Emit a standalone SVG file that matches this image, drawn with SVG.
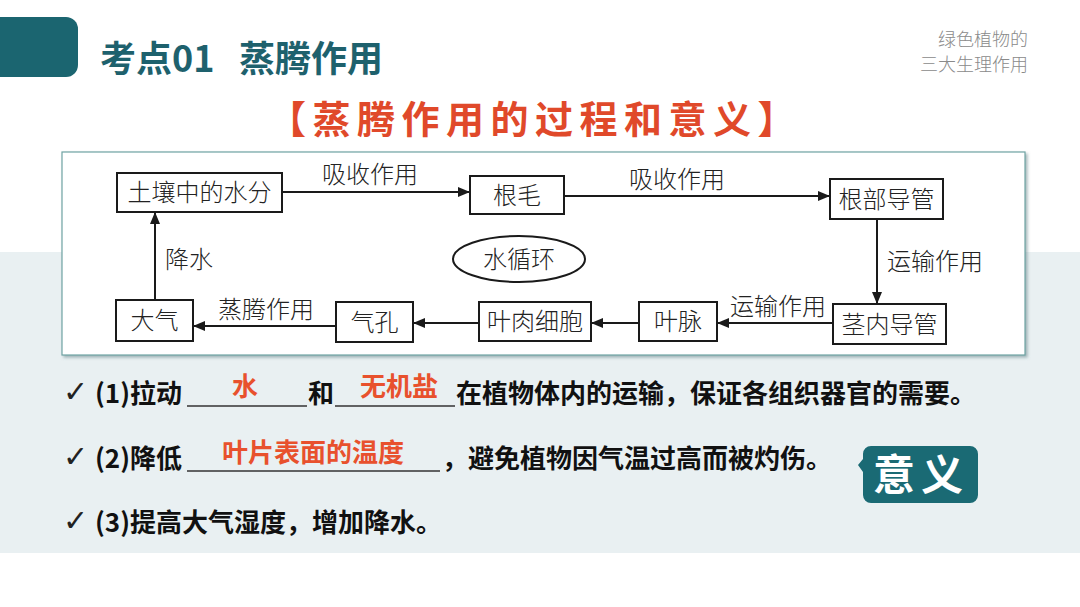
<svg xmlns="http://www.w3.org/2000/svg" width="1080" height="607" viewBox="0 0 1080 607">
<defs>
<style>
.nd{fill:#fff;stroke:#1a1a1a;stroke-width:2}
.nt{font-family:"Noto Sans CJK SC","Noto Sans",sans-serif;font-size:24px;fill:#222;text-anchor:middle;font-weight:300}
.lb{font-family:"Noto Sans CJK SC","Noto Sans",sans-serif;font-size:24px;fill:#222;font-weight:300}
.cn{stroke:#1a1a1a;stroke-width:2;fill:none;marker-end:url(#ah)}
.bt{font-family:"Noto Sans CJK SC","Liberation Sans",sans-serif;font-size:26px;font-weight:bold;fill:#111}
.rd{font-family:"Noto Sans CJK SC","Liberation Sans",sans-serif;font-size:26px;font-weight:bold;fill:#e8512d}
.ul{stroke:#333;stroke-width:1.3}
.ck{font-family:"DejaVu Sans",sans-serif;font-size:30px;fill:#222}
</style>
<marker id="ah" viewBox="0 0 12 10" refX="12" refY="5" markerWidth="12" markerHeight="10" markerUnits="userSpaceOnUse" orient="auto">
<path d="M0,0 L12,5 L0,10 Z" fill="#1a1a1a"/>
</marker>
<filter id="sh" x="-5%" y="-5%" width="110%" height="115%">
<feDropShadow dx="2" dy="2" stdDeviation="1.5" flood-color="#6d8a8e" flood-opacity="0.6"/>
</filter>
</defs>
<rect x="0" y="0" width="1080" height="607" fill="#ffffff"/>
<rect x="0" y="252" width="1080" height="301" fill="#e9f0f2"/>
<rect x="-20" y="17" width="98" height="60" rx="12" fill="#1b6570"/>
<g font-family="Noto Sans CJK SC,Liberation Sans,sans-serif" font-size="36" font-weight="bold" fill="#1e616d">
<text x="100" y="72">考点01</text>
<text x="239" y="72">蒸腾作用</text>
</g>
<g font-family="Noto Sans CJK SC,sans-serif" font-size="18" fill="#8a8a8a" text-anchor="end" font-weight="300">
<text x="1028" y="46">绿色植物的</text>
<text x="1028" y="71">三大生理作用</text>
</g>
<text x="535" y="133" font-family="Noto Sans CJK SC,sans-serif" font-size="38" font-weight="bold" fill="#e0492a" text-anchor="middle" letter-spacing="6.5">【蒸腾作用的过程和意义】</text>
<rect x="62" y="152" width="963" height="203" fill="#ffffff" stroke="#6fa3a3" stroke-width="1.2" filter="url(#sh)"/>
<g id="connectors">
<line class="cn" x1="282" y1="192" x2="470" y2="192"/>
<line class="cn" x1="564" y1="196" x2="830" y2="196"/>
<line class="cn" x1="877" y1="219" x2="877" y2="304"/>
<line class="cn" x1="833" y1="323" x2="717" y2="323"/>
<line class="cn" x1="639" y1="323" x2="591" y2="323"/>
<line class="cn" x1="479" y1="323" x2="413" y2="323"/>
<line class="cn" x1="336" y1="326" x2="193" y2="326"/>
<line class="cn" x1="155" y1="300" x2="155" y2="212"/>
<text class="lb" x="322" y="183">吸收作用</text>
<text class="lb" x="629" y="188">吸收作用</text>
<text class="lb" x="887" y="270">运输作用</text>
<text class="lb" x="730" y="315">运输作用</text>
<text class="lb" x="218" y="318">蒸腾作用</text>
<text class="lb" x="165" y="268">降水</text>
</g>
<g id="n-soil"><rect class="nd" x="117" y="173" width="165" height="39"/><text class="nt" x="199.5" y="201">土壤中的水分</text></g>
<g id="n-genmao"><rect class="nd" x="470" y="176" width="94" height="38"/><text class="nt" x="517" y="203.5">根毛</text></g>
<g id="n-root"><rect class="nd" x="830" y="179" width="113" height="40"/><text class="nt" x="886.5" y="207.5">根部导管</text></g>
<g id="n-stem"><rect class="nd" x="833" y="304" width="113" height="40"/><text class="nt" x="889.5" y="332.5">茎内导管</text></g>
<g id="n-yemai"><rect class="nd" x="639" y="302" width="78" height="39"/><text class="nt" x="678" y="330">叶脉</text></g>
<g id="n-yerou"><rect class="nd" x="479" y="302" width="112" height="39"/><text class="nt" x="535" y="330">叶肉细胞</text></g>
<g id="n-qikong"><rect class="nd" x="336" y="302" width="77" height="40"/><text class="nt" x="374.5" y="330.5">气孔</text></g>
<g id="n-daqi"><rect class="nd" x="116" y="300" width="77" height="41"/><text class="nt" x="154.5" y="329">大气</text></g>
<g id="n-cycle"><ellipse cx="519" cy="259" rx="66" ry="23" fill="#fff" stroke="#1a1a1a" stroke-width="2"/><text class="nt" x="519" y="267.5">水循环</text></g>
<g id="meaning">
<text class="ck" x="63" y="402">✓</text>
<text class="bt" x="95" y="403">(1)拉动</text>
<line class="ul" x1="187" y1="406" x2="307" y2="406"/>
<text class="rd" x="245" y="396" text-anchor="middle">水</text>
<text class="bt" x="308" y="403">和</text>
<line class="ul" x1="335" y1="406" x2="455" y2="406"/>
<text class="rd" x="399" y="396" text-anchor="middle">无机盐</text>
<text class="bt" x="456" y="403">在植物体内的运输，保证各组织器官的需要。</text>
<text class="ck" x="63" y="467">✓</text>
<text class="bt" x="95" y="468">(2)降低</text>
<line class="ul" x1="187" y1="471" x2="440" y2="471"/>
<text class="rd" x="313" y="462" text-anchor="middle">叶片表面的温度</text>
<text class="bt" x="442" y="468">，避免植物因气温过高而被灼伤。</text>
<text class="ck" x="63" y="531">✓</text>
<text class="bt" x="95" y="532">(3)提高大气湿度，增加降水。</text>
</g>
<g id="badge">
<path d="M871,446 H970 a8,8 0 0 1 8,8 V495 a8,8 0 0 1 -8,8 H871 a8,8 0 0 1 -8,-8 V472 L858,465 L863,459 V454 a8,8 0 0 1 8,-8 Z" fill="#1a6a74"/>
<text x="921" y="490" font-family="Noto Sans CJK SC,sans-serif" font-size="42" font-weight="bold" fill="#ffffff" text-anchor="middle" letter-spacing="6">意义</text>
</g>
</svg>
